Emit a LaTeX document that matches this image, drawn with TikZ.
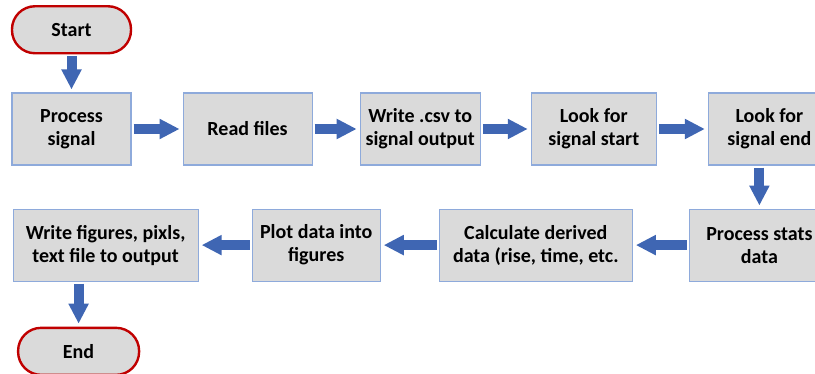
\documentclass[tikz,border=0pt]{standalone}
\usepackage{fontspec}
\setmainfont{Carlito}
\usetikzlibrary{arrows.meta, positioning, calc}
\definecolor{stepgray}{HTML}{DADADA}
\definecolor{stepborder}{HTML}{8EAADB}
\definecolor{termred}{HTML}{C00000}
\definecolor{flowblue}{HTML}{3F66B3}

\begin{document}
\begin{tikzpicture}[
      stepbox/.style={draw=stepborder, fill=stepgray, line width=1.1pt,
        minimum height=72pt, align=center, inner sep=2pt,
        font=\fontsize{20}{23}\selectfont\bfseries},
      term/.style={draw=termred, fill=stepgray, line width=2.4pt,
        rounded corners=23pt, minimum height=47pt, align=center,
        font=\fontsize{20}{23}\selectfont\bfseries},
      flow/.style={draw=flowblue, line width=10pt,
        -{Triangle[length=20pt, width=19pt]}, shorten <=2pt, shorten >=3pt}
    ]
      \useasboundingbox (0,0) rectangle (815pt,-374pt);
      % top row
      \node[stepbox, minimum width=119pt] (procsig) at (71.5pt,-129pt)
        {Process\\signal};
      \node[term, minimum width=119pt, above=38pt of procsig] (start) {Start};
      \node[stepbox, minimum width=129pt, right=51pt of procsig] (readf)
        {Read files};
      \node[stepbox, minimum width=120pt, right=47pt of readf] (writecsv)
        {Write .csv to\\signal output};
      \node[stepbox, minimum width=125pt, right=50pt of writecsv] (sigstart)
        {Look for\\signal start};
      \node[stepbox, minimum width=122pt, right=51pt of sigstart] (sigend)
        {Look for\\signal end};
      % bottom row
      \node[stepbox, minimum width=140pt, below=43pt of sigend, xshift=-10pt]
        (stats) {Process stats\\data};
      \node[stepbox, minimum width=193pt, left=56pt of stats] (derived)
        {Calculate derived\\data (rise, time, etc.};
      \node[stepbox, minimum width=128pt, left=58pt of derived] (plotfig)
        {Plot data into\\figures};
      \node[stepbox, minimum width=185pt, left=53pt of plotfig] (writeout)
        {Write figures, pixls,\\text file to output};
      \node[term, minimum width=121pt, below=45pt of writeout, xshift=-27pt]
        (finish) {End};
      % connectors
      \draw[flow] (start) -- (procsig);
      \draw[flow] (procsig) -- (readf);
      \draw[flow] (readf) -- (writecsv);
      \draw[flow] (writecsv) -- (sigstart);
      \draw[flow] (sigstart) -- (sigend);
      \draw[flow] (sigend.south -| stats.north) -- (stats.north);
      \draw[flow] (stats) -- (derived);
      \draw[flow] (derived) -- (plotfig);
      \draw[flow] (plotfig) -- (writeout);
      \draw[flow] (writeout.south -| finish.north) -- (finish.north);
    \end{tikzpicture}
\end{document}
